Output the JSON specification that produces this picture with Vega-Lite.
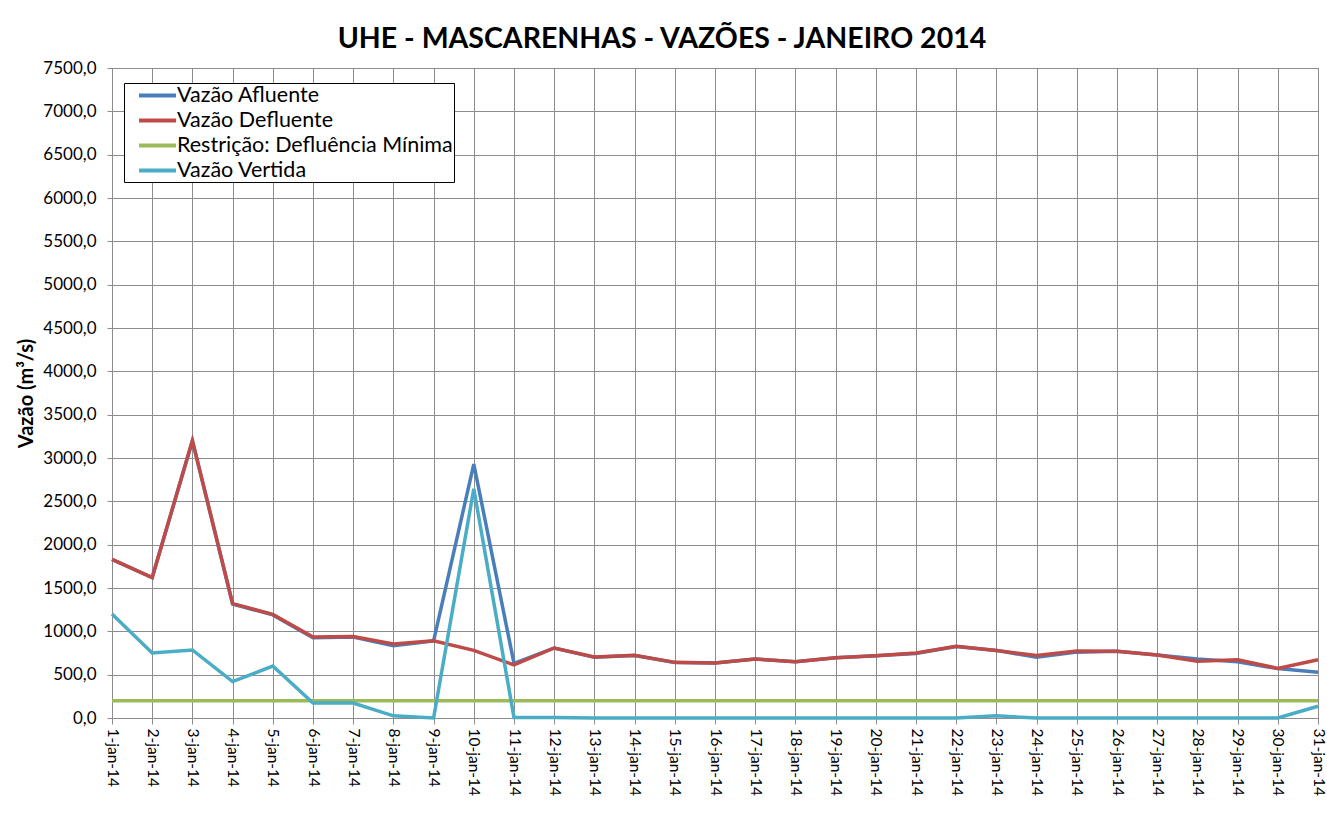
{
  "$schema": "https://vega.github.io/schema/vega-lite/v6.json",
  "width": 1206,
  "height": 650,
  "autosize": {"type": "none"},
  "padding": {"left": 112, "top": 68, "right": 9, "bottom": 107},
  "background": "white",
  "title": {
    "text": "UHE - MASCARENHAS - VAZÕES - JANEIRO 2014",
    "font": "Lato",
    "fontSize": 28.5,
    "fontWeight": "bold",
    "color": "black",
    "anchor": "middle",
    "frame": "bounds",
    "offset": 6,
    "dx": -9
  },
  "config": {
    "view": {"stroke": "#8c8c8c", "strokeWidth": 1},
    "axis": {"labelFont": "Lato", "titleFont": "Lato", "labelColor": "black", "titleColor": "black"}
  },
  "data": {
    "values": [
      {"dia": "1-jan-14", "afluente": 1830, "defluente": 1830, "restricao": 200, "vertida": 1200},
      {"dia": "2-jan-14", "afluente": 1620, "defluente": 1620, "restricao": 200, "vertida": 750},
      {"dia": "3-jan-14", "afluente": 3200, "defluente": 3200, "restricao": 200, "vertida": 785},
      {"dia": "4-jan-14", "afluente": 1315, "defluente": 1320, "restricao": 200, "vertida": 420},
      {"dia": "5-jan-14", "afluente": 1190, "defluente": 1195, "restricao": 200, "vertida": 600},
      {"dia": "6-jan-14", "afluente": 925, "defluente": 935, "restricao": 200, "vertida": 172},
      {"dia": "7-jan-14", "afluente": 935, "defluente": 940, "restricao": 200, "vertida": 172},
      {"dia": "8-jan-14", "afluente": 835, "defluente": 855, "restricao": 200, "vertida": 25},
      {"dia": "9-jan-14", "afluente": 890, "defluente": 890, "restricao": 200, "vertida": 0},
      {"dia": "10-jan-14", "afluente": 2930, "defluente": 780, "restricao": 200, "vertida": 2645},
      {"dia": "11-jan-14", "afluente": 630, "defluente": 612, "restricao": 200, "vertida": 5},
      {"dia": "12-jan-14", "afluente": 808, "defluente": 808, "restricao": 200, "vertida": 5},
      {"dia": "13-jan-14", "afluente": 700, "defluente": 704, "restricao": 200, "vertida": 0},
      {"dia": "14-jan-14", "afluente": 722, "defluente": 723, "restricao": 200, "vertida": 0},
      {"dia": "15-jan-14", "afluente": 640, "defluente": 642, "restricao": 200, "vertida": 0},
      {"dia": "16-jan-14", "afluente": 635, "defluente": 635, "restricao": 200, "vertida": 0},
      {"dia": "17-jan-14", "afluente": 680, "defluente": 681, "restricao": 200, "vertida": 0},
      {"dia": "18-jan-14", "afluente": 648, "defluente": 650, "restricao": 200, "vertida": 0},
      {"dia": "19-jan-14", "afluente": 696, "defluente": 696, "restricao": 200, "vertida": 0},
      {"dia": "20-jan-14", "afluente": 719, "defluente": 719, "restricao": 200, "vertida": 0},
      {"dia": "21-jan-14", "afluente": 745, "defluente": 750, "restricao": 200, "vertida": 0},
      {"dia": "22-jan-14", "afluente": 825, "defluente": 827, "restricao": 200, "vertida": 0},
      {"dia": "23-jan-14", "afluente": 780, "defluente": 780, "restricao": 200, "vertida": 25},
      {"dia": "24-jan-14", "afluente": 700, "defluente": 720, "restricao": 200, "vertida": 0},
      {"dia": "25-jan-14", "afluente": 760, "defluente": 773, "restricao": 200, "vertida": 0},
      {"dia": "26-jan-14", "afluente": 770, "defluente": 771, "restricao": 200, "vertida": 0},
      {"dia": "27-jan-14", "afluente": 727, "defluente": 727, "restricao": 200, "vertida": 0},
      {"dia": "28-jan-14", "afluente": 680, "defluente": 654, "restricao": 200, "vertida": 0},
      {"dia": "29-jan-14", "afluente": 650, "defluente": 673, "restricao": 200, "vertida": 0},
      {"dia": "30-jan-14", "afluente": 570, "defluente": 573, "restricao": 200, "vertida": 0},
      {"dia": "31-jan-14", "afluente": 527, "defluente": 673, "restricao": 200, "vertida": 135}
    ]
  },
  "transform": [
    {"fold": ["afluente", "defluente", "restricao", "vertida"], "as": ["serie", "valor"]}
  ],
  "mark": {"type": "line", "strokeWidth": 3.5, "strokeJoin": "miter"},
  "encoding": {
    "x": {
      "field": "dia",
      "type": "ordinal",
      "sort": null,
      "scale": {"type": "point", "padding": 0},
      "axis": {
        "title": null,
        "labelAngle": 90,
        "labelAlign": "left",
        "labelBaseline": "middle",
        "labelFontSize": 15.5,
        "labelPadding": 4,
        "grid": true,
        "gridColor": "#8c8c8c",
        "gridWidth": 1,
        "gridOpacity": 1,
        "domainColor": "#8c8c8c",
        "tickColor": "#8c8c8c",
        "tickSize": 6,
        "labelOverlap": false
      }
    },
    "y": {
      "field": "valor",
      "type": "quantitative",
      "scale": {"domain": [0, 7500], "nice": false},
      "axis": {
        "title": "Vazão (m³/s)",
        "titleFontSize": 20,
        "titleFontWeight": "bold",
        "titlePadding": 6,
        "values": [0, 500, 1000, 1500, 2000, 2500, 3000, 3500, 4000, 4500, 5000, 5500, 6000, 6500, 7000, 7500],
        "labelExpr": "replace(format(datum.value, '.1f'), '.', ',')",
        "labelFontSize": 17,
        "labelPadding": 11,
        "grid": true,
        "gridColor": "#8c8c8c",
        "gridWidth": 1,
        "gridOpacity": 1,
        "domainColor": "#8c8c8c",
        "tickColor": "#8c8c8c",
        "tickSize": 5
      }
    },
    "color": {
      "field": "serie",
      "type": "nominal",
      "scale": {
        "domain": ["afluente", "defluente", "restricao", "vertida"],
        "range": ["#4a7ebb", "#be4b48", "#9bbb59", "#4bacc6"]
      },
      "legend": {
        "title": null,
        "orient": "none",
        "legendX": 12,
        "legendY": 15,
        "fillColor": "white",
        "strokeColor": "black",
        "padding": 1,
        "symbolType": "M-2,0H2",
        "symbolSize": 342,
        "symbolStrokeWidth": 4,
        "symbolOffset": 21,
        "labelFont": "Lato",
        "labelFontSize": 21.5,
        "labelColor": "black",
        "labelOffset": 8,
        "rowPadding": 3,
        "labelLimit": 400,
        "labelExpr": "datum.label == 'afluente' ? 'Vazão Afluente' : datum.label == 'defluente' ? 'Vazão Defluente' : datum.label == 'restricao' ? 'Restrição: Defluência Mínima' : 'Vazão Vertida'"
      }
    }
  }
}
